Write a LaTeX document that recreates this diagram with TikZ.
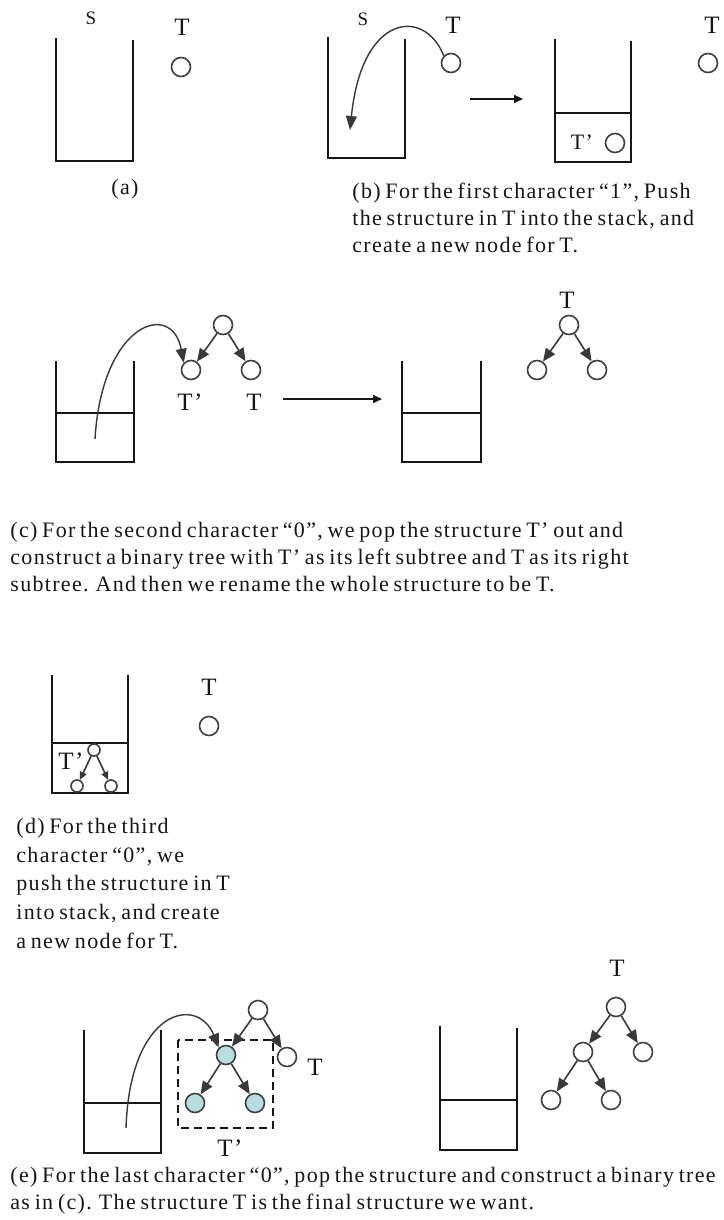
\documentclass[tikz,border=0pt]{standalone}
\usepackage{fontspec}
\setmainfont{Liberation Serif}[LetterSpace=6,WordSpace=0.7]
\usetikzlibrary{arrows.meta,positioning,calc}
\definecolor{ink}{HTML}{161616}
\definecolor{nodeline}{HTML}{404040}
\definecolor{cyanfill}{HTML}{B6DDE0}

\begin{document}
\begin{tikzpicture}[
  x=0.5pt,y=-0.5pt,
  txt/.style={font=\fontsize{11}{13.5}\selectfont,text=ink,inner sep=0pt},
  lbl/.style={font=\fontsize{12.5}{14}\selectfont,text=ink,inner sep=0pt},
  caption/.style={txt,align=left,anchor=base west},
  small/.style={font=\fontsize{9.5}{10}\selectfont,text=ink,inner sep=0pt},
  stack/.style={draw=ink,line width=1pt},
  vtx/.style={circle,draw=nodeline,line width=.8pt,fill=white,minimum size=9.5pt,inner sep=0pt},
  vtxb/.style={vtx,fill=cyanfill},
  tarrow/.style={-{Triangle[length=6.5pt,width=5.5pt]},draw=ink!85,line width=.8pt},
  push/.style={-{Triangle[length=7pt,width=5.5pt]},draw=ink!85,line width=.7pt},
  move/.style={-{Triangle[length=4.5pt,width=4pt]},draw=ink,line width=.8pt},
  dashbox/.style={draw=ink,line width=.7pt,dash pattern=on 4pt off 2.5pt}
]
\fill[white] (0,0) rectangle (723,1220);
\useasboundingbox (0,0) rectangle (723,1220);

% (a) empty stack
\draw[stack] (56,38) -- (56,161) -- (133,161) -- (133,40);
\node[small] (sa) at (91,18) {S};
\node[lbl] (ta) at (182,27) {T};
\node[vtx] (va) at (181,67) {};
\node[txt,anchor=base] (capa) at (125,194) {(a)};

% (b) push T
\draw[stack] (328,37) -- (328,158) -- (405,158) -- (405,39);
\node[small] (sb) at (363,19) {S};
\node[lbl] (tb) at (453,25) {T};
\node[vtx] (vb) at (451,63) {};
\coordinate (inb) at (350,130);
\draw[push] (vb.north west) .. controls (425,8) and (362,12) .. (inb);
\coordinate (fromb) at (470,99);
\coordinate (tob) at (523,99);
\draw[move] (fromb) -- (tob);
\draw[stack] (555,39) -- (555,162) -- (631,162) -- (631,41);
\draw[stack] (555,113) -- (631,113);
\node[txt] (tpb) at (582,142) {T’};
\node[vtx] (vpb) at (615,143) {};
\node[lbl] (tnb) at (712,25) {T};
\node[vtx] (vnb) at (708,63) {};
\node[caption] (capb) at (352,252) {(b) For the first character “1”, Push\\the structure in T into the stack, and\\create a new node for T.};

% (c) pop and build
\draw[stack] (56,361) -- (56,462) -- (134,462) -- (134,361);
\draw[stack] (56,413) -- (134,413);
\node[vtx] (rc) at (223,325) {};
\node[vtx] (lc) at (191,370) {};
\node[vtx] (rgc) at (251,370) {};
\draw[tarrow] (rc) -- (lc);
\draw[tarrow] (rc) -- (rgc);
\coordinate (outc) at (95,439);
\draw[push] (outc) .. controls (102,322) and (172,300) .. (lc.north west);
\node[lbl] (tpc) at (190,402) {T’};
\node[lbl] (tc) at (254,402) {T};
\coordinate (fromc) at (283,399);
\coordinate (toc) at (382,399);
\draw[move] (fromc) -- (toc);
\draw[stack] (402,361) -- (402,462) -- (481,462) -- (481,361);
\draw[stack] (402,413) -- (481,413);
\node[lbl] (tnc) at (567,300) {T};
\node[vtx] (rnc) at (569,325) {};
\node[vtx] (lnc) at (537,370) {};
\node[vtx] (rgnc) at (597,370) {};
\draw[tarrow] (rnc) -- (lnc);
\draw[tarrow] (rnc) -- (rgnc);
\node[caption] (capc) at (10,591) {(c) For the second character “0”, we pop the structure T’ out and\\construct a binary tree with T’ as its left subtree and T as its right\\subtree. And then we rename the whole structure to be T.};

% (d) push again
\draw[stack] (52,675) -- (52,793) -- (128,793) -- (128,675);
\draw[stack] (52,743) -- (128,743);
\node[vtx,minimum size=6pt] (rd) at (94,750) {};
\node[vtx,minimum size=6pt] (ld) at (77,786) {};
\node[vtx,minimum size=6pt] (rgd) at (111,786) {};
\draw[tarrow,-{Triangle[length=4pt,width=3.5pt]}] (rd) -- (ld);
\draw[tarrow,-{Triangle[length=4pt,width=3.5pt]}] (rd) -- (rgd);
\node[lbl] (tpd) at (71,761) {T’};
\node[lbl] (td) at (209,687) {T};
\node[vtx] (vd) at (209,726) {};
\node[caption,font=\fontsize{11}{14.3}\selectfont] (capd) at (16,948) {(d) For the third\\character “0”, we\\push the structure in T\\into stack, and create\\a new node for T.};

% (e) last pop
\draw[stack] (84,1030) -- (84,1153) -- (161,1153) -- (161,1030);
\draw[stack] (84,1103) -- (161,1103);
\draw[dashbox] (178,1040) rectangle (273,1128);
\node[vtx] (re) at (258,1010) {};
\node[vtxb] (le) at (226,1055) {};
\node[vtx] (rge) at (287,1057) {};
\node[vtxb] (lle) at (195,1103) {};
\node[vtxb] (lre) at (255,1103) {};
\draw[tarrow] (re) -- (le);
\draw[tarrow] (re) -- (rge);
\draw[tarrow] (le) -- (lle);
\draw[tarrow] (le) -- (lre);
\coordinate (oute) at (126,1128);
\draw[push] (oute) .. controls (130,1008) and (198,995) .. (le.north west);
\node[lbl] (tpe) at (230,1148) {T’};
\node[lbl] (te) at (315,1067) {T};
\draw[stack] (440,1026) -- (440,1150) -- (517,1150) -- (517,1028);
\draw[stack] (440,1100) -- (517,1100);
\node[lbl] (tne) at (617,968) {T};
\node[vtx] (rne) at (616,1007) {};
\node[vtx] (lne) at (583,1052) {};
\node[vtx] (rgne) at (643,1052) {};
\node[vtx] (llne) at (551,1100) {};
\node[vtx] (lrne) at (611,1100) {};
\draw[tarrow] (rne) -- (lne);
\draw[tarrow] (rne) -- (rgne);
\draw[tarrow] (lne) -- (llne);
\draw[tarrow] (lne) -- (lrne);
\node[caption] (cape) at (10,1209) {(e) For the last character “0”, pop the structure and construct a binary tree\\as in (c). The structure T is the final structure we want.};
\end{tikzpicture}
\end{document}
